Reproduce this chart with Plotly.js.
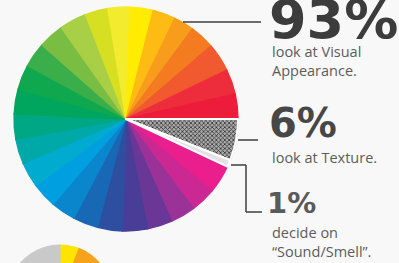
<!DOCTYPE html>
<html><head><meta charset="utf-8">
<script src="https://cdn.plot.ly/plotly-3.0.1.min.js"></script>
<style>
html,body{margin:0;padding:0;overflow:hidden;background:#f8f8f8;width:399px;height:263px}
#wrap{width:399px;height:263px;overflow:hidden;position:relative}
</style></head>
<body><div id="wrap"><div id="chart"></div></div>
<script>
// ---- data ----
const shareValues = [93, 6, 1];
const shareLabels = ['93%', '6%', '1%'];
const shareCaptions = ['look at Visual<br>Appearance.', 'look at Texture.', 'decide on<br>“Sound/Smell”.'];

// rainbow sub-slices of the 93% share, counter-clockwise from 3 o'clock
const rainbowValues = [3.6, 3.6, 4.1, 3.6, 2.9, 3.3, 3.3, 3.2, 3.3, 3.9, 3.7,
                       3.6, 3.6, 3.6, 3.6, 3.6, 3.6, 3.6, 3.6, 3.6, 3.6, 3.6, 3.6, 3.6, 3.6, 4.1];
const rainbowColors = ['#ED1C3A', '#EE2D3C', '#F05A2E', '#F47B20', '#F89C1C', '#FDBB13', '#FFEC00',
                       '#F3EB2E', '#D7DF23', '#A8CF45', '#79BE43', '#3AAE4A', '#10A84E', '#00A65D',
                       '#00A785', '#00A9A8', '#00ABD0', '#00A0E0', '#0A86CC', '#1868B5', '#2E4FA0',
                       '#4A3D98', '#6A3797', '#9A3298', '#CC2893', '#EA1E8C'];

// second (cut-off) pie below
const pie2Values = [6, 9, 10, 11, 12, 12, 12, 13, 15];
const pie2Colors = ['#FFE400', '#F7A21C', '#F05A2E', '#E0208A', '#6A3797',
                    '#1C6AB5', '#00A9C8', '#2BAA4A', '#C9C9C9'];

// ---- build ----
const W = 399, H = 380;
const X = x => x / W, Y = y => 1 - y / H;
const PIE_X = [X(14), X(238)], PIE_Y = [Y(231), Y(7)];

const revVals = rainbowValues.slice().reverse();
const revCols = rainbowColors.slice().reverse();
const texFill = '#8e8e8e', smellFill = '#e2e2e6';

const pie1 = {
  type: 'pie', values: [shareValues[1], shareValues[2]].concat(revVals),
  sort: false, direction: 'clockwise', rotation: 90,
  marker: {colors: [texFill, smellFill].concat(revCols),
           line: {color: [texFill, smellFill].concat(revCols), width: 1.4}},
  textinfo: 'none', hoverinfo: 'none', showlegend: false,
  domain: {x: PIE_X, y: PIE_Y}
};
// overlay: texture + sound/smell slices with white outline, visual share transparent
const pie3 = {
  type: 'pie', values: [shareValues[1], shareValues[2], shareValues[0]],
  sort: false, direction: 'clockwise', rotation: 90,
  marker: {colors: [texFill, smellFill, 'rgba(0,0,0,0)'],
           line: {color: '#ffffff', width: [2, 2, 0]},
           pattern: {shape: ['x', '', ''], fgcolor: '#333333', bgcolor: '#ababab', size: 3, solidity: 0.45}},
  textinfo: 'none', hoverinfo: 'none', showlegend: false,
  domain: {x: PIE_X, y: PIE_Y}
};
const pie2 = {
  type: 'pie', values: pie2Values, sort: false, direction: 'clockwise', rotation: 0,
  marker: {colors: pie2Colors, line: {color: pie2Colors, width: 1.2}},
  textinfo: 'none', hoverinfo: 'none', showlegend: false,
  domain: {x: [X(8), X(112)], y: [Y(349), Y(245)]}
};

const dark = '#3c3c3c', dark2 = '#474747', mid = '#5a5a5a', capCol = '#5c5c5c';
const bigFont = 'DejaVu Sans', capFont = 'Open Sans';
const ann = (text, x, y, size, color, family, weight) => ({
  text: text, x: X(x), y: Y(y), xref: 'paper', yref: 'paper', xanchor: 'left', yanchor: 'middle',
  showarrow: false, align: 'left', font: {family: family, size: size, color: color, weight: weight}
});
const annotations = [
  ann(shareLabels[0], 267, 19, 54, dark, bigFont, 700),
  ann(shareCaptions[0], 270, 61, 14.5, capCol, capFont, 400),
  ann(shareLabels[1], 267, 122.5, 40, dark2, bigFont, 700),
  ann(shareCaptions[1], 270, 157, 14.5, capCol, capFont, 400),
  ann(shareLabels[2], 265, 202.5, 29, mid, bigFont, 700),
  ann(shareCaptions[2], 270, 242, 14.5, capCol, capFont, 400)
];
const ln = (x0, y0, x1, y1) => ({type: 'line', xref: 'paper', yref: 'paper',
  x0: X(x0), y0: Y(y0), x1: X(x1), y1: Y(y1), line: {color: '#3f3f3f', width: 1.5}});
const shapes = [
  ln(183, 22, 261, 22),
  ln(238, 140, 258, 140),
  ln(231, 165, 246, 165), ln(246, 165, 246, 212), ln(246, 212, 262, 212)
];

Plotly.newPlot('chart', [pie1, pie3, pie2], {
  width: W, height: H, margin: {l: 0, r: 0, t: 0, b: 0},
  paper_bgcolor: '#f8f8f8', plot_bgcolor: '#f8f8f8',
  annotations: annotations, shapes: shapes, showlegend: false
}, {staticPlot: true, displayModeBar: false});
</script></body></html>
